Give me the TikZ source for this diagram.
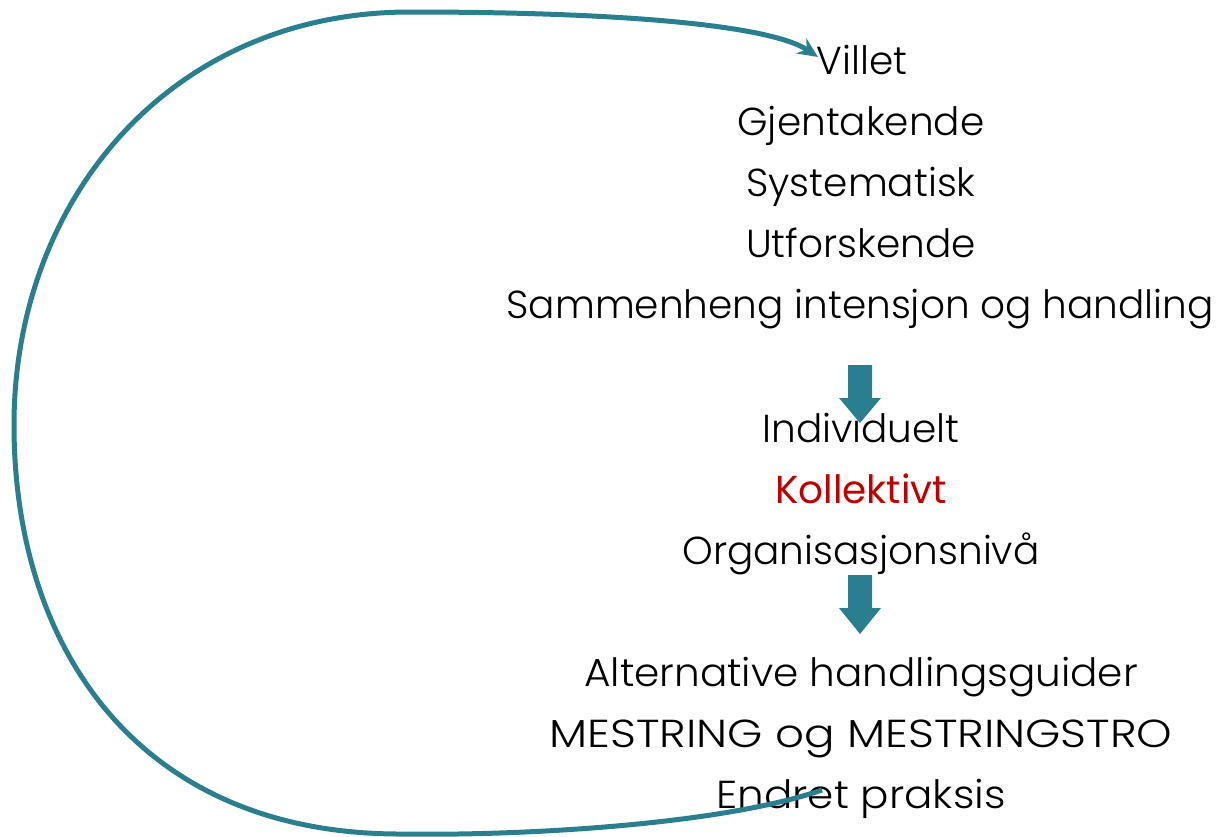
\documentclass[tikz,border=0pt]{standalone}
\usepackage{fontspec}
\IfFontExistsTF{Poppins Light}{\setmainfont{Poppins Light}}{\setmainfont{Poppins}}
\newfontfamily\kollfont{Poppins}
\usetikzlibrary{arrows.meta}
\definecolor{teal1}{RGB}{42,127,143}
\definecolor{red1}{RGB}{192,0,0}
\begin{document}
\begin{tikzpicture}[x=1pt,y=-1pt,
  lbl/.style={font=\fontsize{39}{44}\selectfont, text=black, inner sep=0pt, anchor=base},
  blockarrow/.style={fill=teal1, draw=none}]
\useasboundingbox (0,0) rectangle (1222,836);
\node[lbl] (villet) at (862,74) {Villet};
\node[lbl] (gjent) at (861,135) {Gjentakende};
\node[lbl] (syst) at (861,196) {Systematisk};
\node[lbl] (utf) at (861,257) {Utforskende};
\node[lbl] (samm) at (860,318) {Sammenheng intensjon og handling};
\node[lbl] (indiv) at (861,442) {Individuelt};
\node[lbl, text=red1] (koll) at (861,503) {\kollfont Kollektivt};
\node[lbl] (org) at (861,564) {Organisasjonsnivå};
\node[lbl] (alt) at (861,686) {\scalebox{1.04}[1]{Alternative handlingsguider}};
\node[lbl] (mest) at (861,747) {\scalebox{1.16}[1]{MESTRING og MESTRINGSTRO}};
\node[lbl] (endr) at (861,808) {\scalebox{1.08}[1]{Endret praksis}};
% block arrows
\fill[blockarrow] (848,365) -- (872,365) -- (872,398) -- (881,398) -- (860,423) -- (839,398) -- (848,398) -- cycle;
\fill[blockarrow] (848,575) -- (872,575) -- (872,608) -- (881,608) -- (860,634) -- (839,608) -- (848,608) -- cycle;
% loop
\coordinate (start) at (822,790);
\coordinate (tip) at (818,57);
\draw[teal1, line width=5pt, -{Stealth[length=20pt,width=18pt]}]
  (start) .. controls (720,825) and (520,836) .. (400,834)
  .. controls (140,834) and (14,650) .. (14,425)
  .. controls (14,200) and (170,12) .. (410,12)
  .. controls (620,12) and (770,25) .. (tip);
\end{tikzpicture}
\end{document}
